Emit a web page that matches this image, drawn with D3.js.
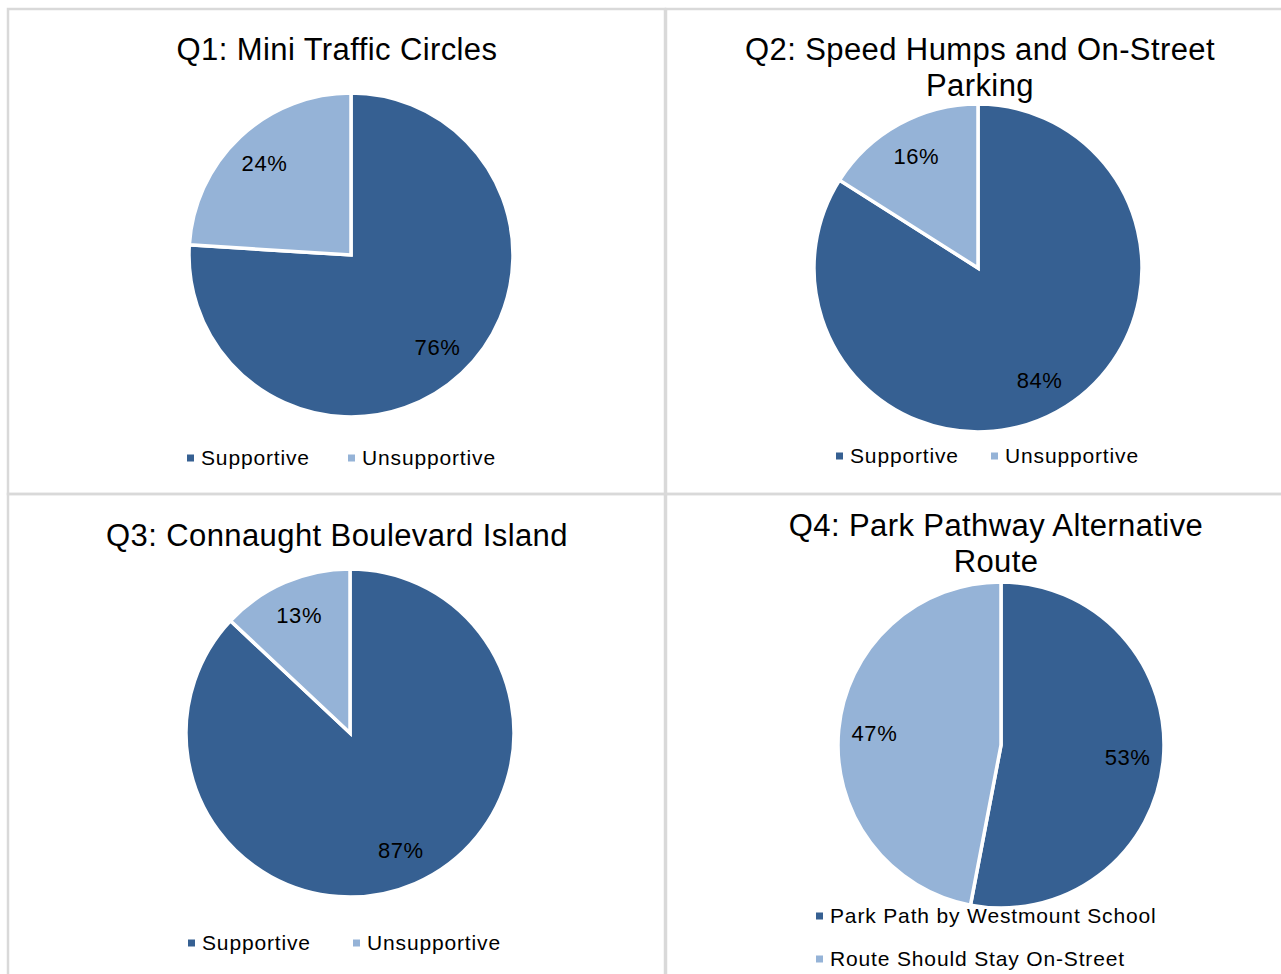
<!DOCTYPE html>
<html>
<head>
<meta charset="utf-8">
<script src="https://cdn.jsdelivr.net/npm/d3@7/dist/d3.min.js"></script>
<style>
  html, body { margin: 0; padding: 0; background: #fff; }
  svg { display: block; font-family: "Liberation Sans", Arial, sans-serif; }
</style>
</head>
<body>
<svg id="chart" width="1281" height="974"></svg>
<script>
// Survey results, one pie per question
const titles = [
  ["Q1: Mini Traffic Circles"],
  ["Q2: Speed Humps and On-Street", "Parking"],
  ["Q3: Connaught Boulevard Island"],
  ["Q4: Park Pathway Alternative", "Route"]
];
const q1Labels = ["Supportive", "Unsupportive"];
const q1Values = [76, 24];
const q2Labels = ["Supportive", "Unsupportive"];
const q2Values = [84, 16];
const q3Labels = ["Supportive", "Unsupportive"];
const q3Values = [87, 13];
const q4Labels = ["Park Path by Westmount School", "Route Should Stay On-Street"];
const q4Values = [53, 47];

const seriesLabels = [q1Labels, q2Labels, q3Labels, q4Labels];
const seriesValues = [q1Values, q2Values, q3Values, q4Values];

const colors = ["#366092", "#95B3D7"];

// Panel frames and placement of each chart
const layout = [
  { frame: [8, 9, 657, 485], cx: 351, cy: 255, r: 162, titleX: 337, titleY: 60,
    legend: { type: "row", y: 458, items: [187, 348] } },
  { frame: [666, 9, 630, 485], cx: 978, cy: 268, r: 164, titleX: 980, titleY: 60,
    legend: { type: "row", y: 456, items: [836, 991] } },
  { frame: [8, 494, 657, 490], cx: 350, cy: 733, r: 164, titleX: 337, titleY: 546,
    legend: { type: "row", y: 943, items: [188, 353] } },
  { frame: [666, 494, 630, 490], cx: 1001, cy: 745, r: 163, titleX: 996, titleY: 536,
    legend: { type: "col", x: 816, items: [916, 959] } }
];

const svg = d3.select("#chart");

const pie = d3.pie().sort(null).value(d => d.value);

layout.forEach((L, i) => {
  const g = svg.append("g");

  g.append("rect")
    .attr("x", L.frame[0]).attr("y", L.frame[1])
    .attr("width", L.frame[2]).attr("height", L.frame[3])
    .attr("fill", "none")
    .attr("stroke", "#d9d9d9")
    .attr("stroke-width", 2.5);

  // Title
  const t = g.append("text")
    .attr("x", L.titleX).attr("y", L.titleY)
    .attr("text-anchor", "middle")
    .attr("font-size", 31)
    .attr("letter-spacing", 0.4)
    .attr("fill", "#000");
  titles[i].forEach((line, k) => {
    t.append("tspan").attr("x", L.titleX).attr("dy", k === 0 ? 0 : 36).text(line);
  });

  const data = seriesLabels[i].map((name, k) => ({ name, value: seriesValues[i][k], k }));
  const arcs = pie(data);
  const arc = d3.arc().innerRadius(0).outerRadius(L.r);
  const labelArc = d3.arc().innerRadius(L.r * 0.78).outerRadius(L.r * 0.78);

  const pg = g.append("g").attr("transform", `translate(${L.cx},${L.cy})`);
  pg.selectAll("path.slice")
    .data(arcs)
    .join("path")
    .attr("class", "slice")
    .attr("d", arc)
    .attr("fill", d => colors[d.data.k])
    .attr("stroke", "#fff")
    .attr("stroke-width", 3.5)
    .attr("stroke-linejoin", "miter");

  pg.selectAll("text.val")
    .data(arcs)
    .join("text")
    .attr("class", "val")
    .attr("transform", d => `translate(${labelArc.centroid(d)})`)
    .attr("text-anchor", "middle")
    .attr("dy", "0.35em")
    .attr("font-size", 22)
    .attr("letter-spacing", 0.6)
    .attr("fill", "#000")
    .text(d => d.data.value + "%");

  // Legend
  const lg = g.append("g");
  data.forEach((d, k) => {
    const x = L.legend.type === "row" ? L.legend.items[k] : L.legend.x;
    const y = L.legend.type === "row" ? L.legend.y : L.legend.items[k];
    lg.append("rect")
      .attr("x", x).attr("y", y - 3.5)
      .attr("width", 7).attr("height", 7)
      .attr("fill", colors[d.k]);
    lg.append("text")
      .attr("x", x + 14).attr("y", y)
      .attr("dy", "0.35em")
      .attr("font-size", 21)
      .attr("letter-spacing", 0.85)
      .attr("fill", "#000")
      .text(d.name);
  });
});
</script>
</body>
</html>
